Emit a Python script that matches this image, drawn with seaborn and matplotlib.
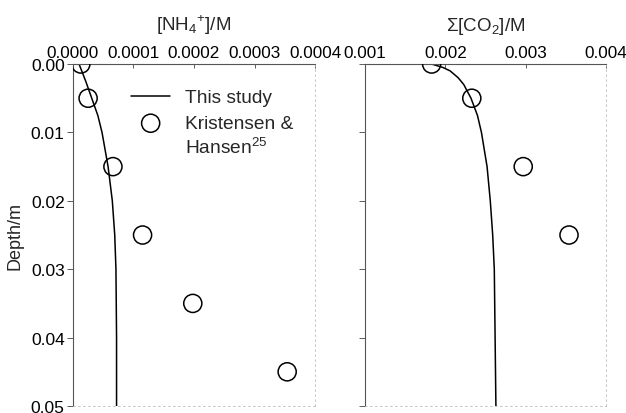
import numpy as np
import pandas as pd
import matplotlib
matplotlib.use("Agg")
import matplotlib.pyplot as plt
import seaborn as sns

# measured points (Kristensen & Hansen)
obs_depth_nh4 = [0.0, 0.005, 0.015, 0.025, 0.035, 0.045]
obs_nh4 = [0.000013, 0.000025, 0.000066, 0.000115, 0.000198, 0.000354]
obs_depth_co2 = [0.0, 0.005, 0.015, 0.025]
obs_co2 = [0.00183, 0.00233, 0.00297, 0.00354]

# model curves (this study)
mod_depth_nh4 = [0.0, 0.0025, 0.005, 0.0075, 0.01, 0.0125, 0.015, 0.02, 0.025, 0.03, 0.04, 0.05]
mod_nh4 = [0.000010, 0.000021, 0.000031, 0.000041, 0.000048, 0.000053, 0.000058,
           0.000065, 0.000069, 0.000071, 0.000072, 0.000072]
mod_depth_co2 = [0.0, 0.0005, 0.001, 0.002, 0.003, 0.005, 0.0075, 0.01, 0.015,
                 0.02, 0.025, 0.03, 0.04, 0.05]
mod_co2 = [0.00183, 0.00197, 0.00206, 0.00216, 0.00223, 0.00232, 0.00240, 0.00245,
           0.00252, 0.00256, 0.00259, 0.00261, 0.00262, 0.00263]

sns.set_style("white")
plt.rcParams['font.family'] = ['Liberation Sans', 'DejaVu Sans']
plt.rcParams['mathtext.fontset'] = 'custom'
plt.rcParams['mathtext.rm'] = 'Liberation Sans'

fig = plt.figure(figsize=(6.26, 4.14), dpi=100)
ax1 = fig.add_axes([0.1166, 0.0169, 0.3866, 0.826])
ax2 = fig.add_axes([0.583, 0.0169, 0.385, 0.826])


def style_axis(ax, xlim, xticks, fmt, title, show_ylabels):
    ax.set_xlim(*xlim)
    ax.set_ylim(0.05, 0.0)
    ax.set_xticks(xticks)
    ax.set_xticklabels([fmt.format(t) for t in xticks])
    ax.set_yticks([0.0, 0.01, 0.02, 0.03, 0.04, 0.05])
    ax.xaxis.tick_top()
    ax.xaxis.set_label_position("top")
    ax.set_xlabel(title, fontsize=13.5, labelpad=11)
    ax.tick_params(axis="x", direction="in", length=3, width=0.6, labelsize=12.3, pad=3,
                   colors="#444444", labelcolor="black")
    ax.tick_params(axis="y", direction="out", length=4, width=0.6, labelsize=12.5, pad=2,
                   left=True, colors="#444444", labelcolor="black")
    if show_ylabels:
        ax.set_yticklabels(["0.00", "0.01", "0.02", "0.03", "0.04", "0.05"])
        ax.set_ylabel("Depth/m", fontsize=13, labelpad=5)
    else:
        ax.set_yticklabels([])
        ax.set_ylabel("")
    for side in ["top", "left"]:
        ax.spines[side].set_color("#555555")
        ax.spines[side].set_linewidth(0.8)
    for side in ["right", "bottom"]:
        ax.spines[side].set_color("#bbbbbb")
        ax.spines[side].set_linewidth(0.6)
        ax.spines[side].set_linestyle((0, (2, 4)))


sns.lineplot(x=mod_nh4, y=mod_depth_nh4, sort=False, estimator=None, color="black", lw=1.1,
             ax=ax1, label="This study")
sns.scatterplot(x=obs_nh4, y=obs_depth_nh4, marker="o", s=170, facecolors="none",
                edgecolor="black", linewidth=1.1, ax=ax1, label="Kristensen &",
                zorder=3)
style_axis(ax1, (0.0, 0.0004), [0.0, 0.0001, 0.0002, 0.0003, 0.0004], "{:.4f}",
           r"[NH$_4$$^{+}$]/M", True)
leg = ax1.legend(loc="upper left", bbox_to_anchor=(0.21, 0.95), frameon=False, fontsize=13.8,
                 handlelength=2.0, handletextpad=0.8, labelspacing=0.45, borderaxespad=0)
ax1.text(0.4645, 0.76, "Hansen$^{25}$", transform=ax1.transAxes, fontsize=13.8,
         ha="left", va="center")

sns.lineplot(x=mod_co2, y=mod_depth_co2, sort=False, estimator=None, color="black", lw=1.1,
             ax=ax2)
sns.scatterplot(x=obs_co2, y=obs_depth_co2, marker="o", s=170, facecolors="none",
                edgecolor="black", linewidth=1.1, ax=ax2, zorder=3)
style_axis(ax2, (0.001, 0.004), [0.001, 0.002, 0.003, 0.004], "{:.3f}",
           r"Σ[CO$_2$]/M", False)

fig.savefig("out.png", dpi=100)
